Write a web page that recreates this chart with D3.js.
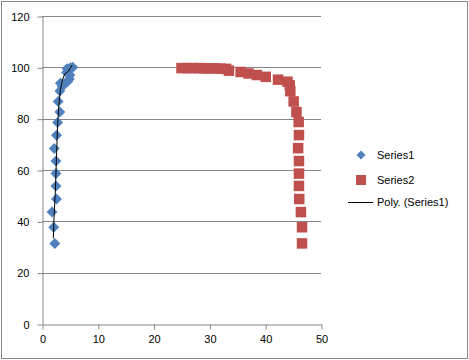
<!DOCTYPE html>
<html>
<head>
<meta charset="utf-8">
<script src="https://cdn.jsdelivr.net/npm/d3@7"></script>
<style>
html,body{margin:0;padding:0;background:#fff;}
svg{display:block;font-family:"Liberation Sans",Arial,sans-serif;}
</style>
</head>
<body>
<svg id="chart" width="469" height="360"></svg>
<script>
// Series1 (blue diamonds)
const s1x = [2.3, 2.1, 1.8, 2.6, 2.5, 2.5, 2.5, 2.2, 2.6, 2.8, 3.2, 2.9, 3.2, 3.3, 3.6, 4.0, 4.6, 4.9, 5.0, 4.4, 4.8, 5.1, 5.5, 4.5];
const s1y = [31.4, 37.7, 43.6, 48.7, 53.8, 58.6, 63.5, 68.4, 73.5, 78.5, 82.6, 86.7, 90.8, 93.8, 92.5, 93.5, 94.5, 95.5, 97.0, 98.0, 99.0, 99.8, 100.0, 99.5];
// Series2 (red squares)
const s2x = [25, 26, 27, 28, 29, 30, 31, 32, 33, 33.5, 35.6, 37.0, 38.5, 40.1, 42.3, 44.0, 44.4, 44.5, 45.1, 45.6, 46.0, 46.05, 45.9, 46.05, 46.05, 46.05, 46.1, 46.4, 46.6, 46.6];
const s2y = [99.7, 99.7, 99.7, 99.7, 99.6, 99.6, 99.6, 99.5, 99.4, 98.7, 98.2, 97.6, 97.0, 96.3, 95.2, 94.4, 93.0, 90.7, 86.7, 82.6, 78.7, 73.6, 68.5, 63.5, 58.6, 53.8, 48.7, 43.6, 37.7, 31.4];
// Poly. (Series1) trendline
const trendX = [2.03, 2.15, 2.4, 2.58, 2.76, 3.0, 3.3, 3.66, 4.07, 4.67, 5.4];
const trendY = [33.4, 41.2, 52.2, 63.9, 75.6, 84.7, 91.2, 95.0, 97.4, 98.3, 100.9];
const xTicks = [0, 10, 20, 30, 40, 50];
const yTicks = [0, 20, 40, 60, 80, 100, 120];
const legendLabels = ["Series1", "Series2", "Poly. (Series1)"];

const svg = d3.select("#chart");
const W = 469, H = 360;
const C1 = "#4F81BD", C2 = "#C0504D", AX = "#868686";

// chart border
svg.append("rect").attr("x", 1.5).attr("y", 1.5).attr("width", W - 3).attr("height", H - 3)
  .attr("fill", "#fff").attr("stroke", AX).attr("stroke-width", 1);

const x = d3.scaleLinear().domain([0, 50]).range([42, 321]);
const y = d3.scaleLinear().domain([0, 120]).range([324, 16]);

// gridlines
svg.append("g").selectAll("line").data(yTicks.filter(d => d > 0)).join("line")
  .attr("x1", x(0)).attr("x2", x(50))
  .attr("y1", d => Math.round(y(d)) + 0.5).attr("y2", d => Math.round(y(d)) + 0.5)
  .attr("stroke", AX).attr("stroke-width", 1);

// axes
const yAxis = svg.append("g").attr("transform", `translate(${Math.round(x(0)) + 0.5},0.5)`)
  .call(d3.axisLeft(y).tickValues(yTicks).tickSize(5).tickSizeOuter(0).tickPadding(8));
const xAxis = svg.append("g").attr("transform", `translate(0.5,${Math.round(y(0)) + 0.5})`)
  .call(d3.axisBottom(x).tickValues(xTicks).tickSize(5).tickSizeOuter(0).tickPadding(6));
[yAxis, xAxis].forEach(a => {
  a.select(".domain").attr("stroke", AX);
  a.selectAll(".tick line").attr("stroke", AX);
  a.selectAll(".tick text").attr("fill", "#000").attr("font-size", 11)
    .attr("font-family", "'Liberation Sans',Arial,sans-serif");
});

// Series2 squares
const sq = 10.5;
svg.append("g").selectAll("rect").data(s2x.map((v, i) => [v, s2y[i]])).join("rect")
  .attr("x", d => x(d[0]) - sq / 2).attr("y", d => y(d[1]) - sq / 2)
  .attr("width", sq).attr("height", sq).attr("fill", C2);

// Series1 diamonds
const diamond = d3.symbol().type(d3.symbolSquare).size(60);
svg.append("g").selectAll("path").data(s1x.map((v, i) => [v, s1y[i]])).join("path")
  .attr("d", diamond)
  .attr("transform", d => `translate(${x(d[0])},${y(d[1])}) rotate(45)`)
  .attr("fill", C1);

// trendline
svg.append("path").datum(trendX.map((v, i) => [v, trendY[i]]))
  .attr("d", d3.line().x(d => x(d[0])).y(d => y(d[1])))
  .attr("fill", "none").attr("stroke", "#000").attr("stroke-width", 1);

// legend
const lg = svg.append("g");
const ly = [155, 180, 202];
lg.append("path").attr("d", d3.symbol().type(d3.symbolSquare).size(40))
  .attr("transform", `translate(361,${ly[0]}) rotate(45)`).attr("fill", C1);
lg.append("rect").attr("x", 356).attr("y", ly[1] - 5).attr("width", 10).attr("height", 10).attr("fill", C2);
lg.append("line").attr("x1", 348).attr("x2", 373).attr("y1", ly[2] + 0.5).attr("y2", ly[2] + 0.5)
  .attr("stroke", "#000").attr("stroke-width", 1);
lg.selectAll("text").data(legendLabels).join("text")
  .attr("x", 377).attr("y", (d, i) => ly[i]).attr("dy", "0.35em")
  .attr("font-size", 11).attr("fill", "#000").text(d => d);
</script>
</body>
</html>
